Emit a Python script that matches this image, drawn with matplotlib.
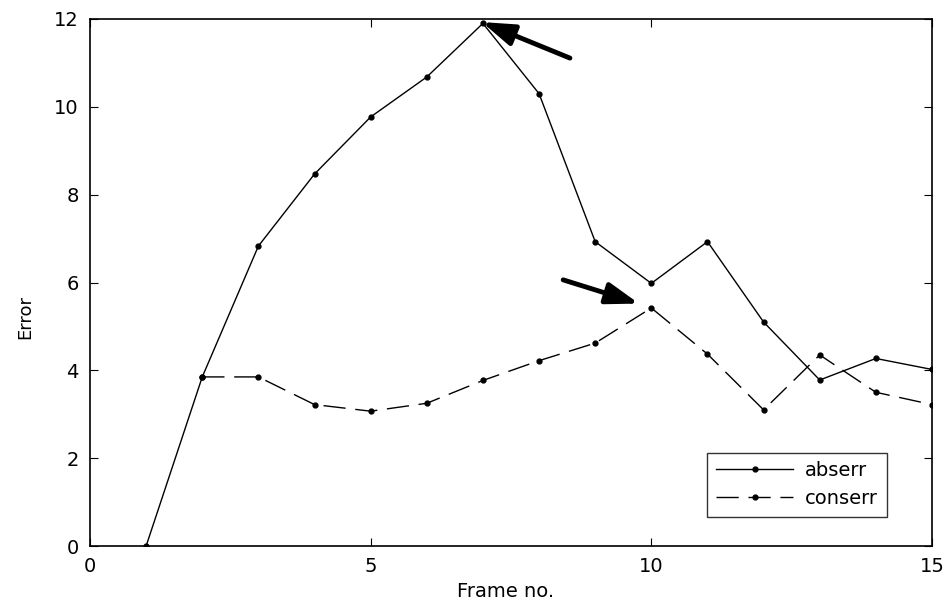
import matplotlib
matplotlib.use("Agg")
from matplotlib import pyplot as plt

frames_abs = [1, 2, 3, 4, 5, 6, 7, 8, 9, 10, 11, 12, 13, 14, 15]
abserr = [0, 3.85, 6.83, 8.47, 9.77, 10.68, 11.9, 10.3, 6.93, 5.98, 6.93, 5.1, 3.78, 4.27, 4.02]
frames_con = [2, 3, 4, 5, 6, 7, 8, 9, 10, 11, 12, 13, 14, 15]
conserr = [3.85, 3.85, 3.22, 3.07, 3.25, 3.77, 4.22, 4.62, 5.42, 4.37, 3.1, 4.35, 3.5, 3.22]

fig = plt.figure(figsize=(9.5, 6.06), dpi=100)
ax = fig.add_axes([90/950, 1 - 546/606, 842/950, 527/606])

ax.plot(frames_abs, abserr, color="black", lw=1, marker=".", ms=7, label="abserr")
ax.plot(frames_con, conserr, color="black", lw=1, marker=".", ms=7,
        dashes=(16, 7), label="conserr")

ax.set_xlim(0, 15)
ax.set_ylim(0, 12)
ax.set_xticks([0, 5, 10, 15])
ax.set_yticks([0, 2, 4, 6, 8, 10, 12])
ax.tick_params(direction="in", top=True, right=True, length=6, labelsize=14, pad=8)
for s in ax.spines.values():
    s.set_linewidth(1.2)

ax.set_xlabel("Frame no.", fontsize=14)
ax.set_ylabel("Error", fontsize=13)
ax.xaxis.set_label_coords(0.494, -0.068)
ax.yaxis.set_label_coords(-0.066, 0.435)

arrow = dict(arrowstyle="-|>,head_length=1.5,head_width=0.5", color="black", lw=3.5,
             shrinkA=0, shrinkB=0, mutation_scale=13)
ax.annotate("", xy=(6.98, 11.93), xytext=(8.55, 11.11), arrowprops=arrow)
ax.annotate("", xy=(9.78, 5.52), xytext=(8.43, 6.06), arrowprops=arrow)

leg = ax.legend(loc="lower right", bbox_to_anchor=(0.958, 0.037), fontsize=14,
                frameon=True, fancybox=False, edgecolor="black", handlelength=4.0,
                handletextpad=0.6, borderpad=0.45, labelspacing=0.45)
leg.get_frame().set_linewidth(1.0)

fig.savefig("out.png", dpi=100)
